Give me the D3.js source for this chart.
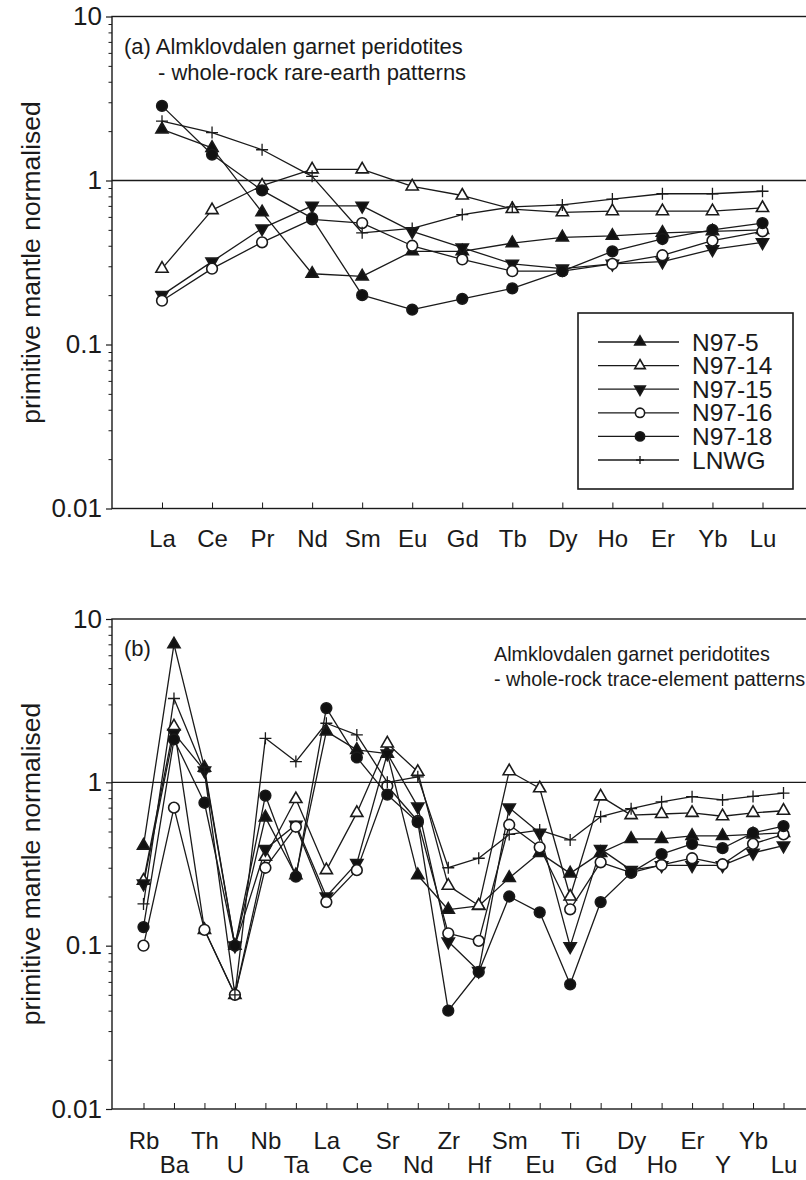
<!DOCTYPE html>
<html>
<head>
<meta charset="utf-8">
<script src="https://cdn.jsdelivr.net/npm/d3@7"></script>
<style>
body { margin: 0; background: #fff; }
svg { display: block; font-family: "Liberation Sans", Arial, Helvetica, sans-serif; }
</style>
</head>
<body>
<svg id="chart" width="806" height="1180"></svg>
<script>
// panel (a): rare-earth elements
const reeElements = ["La", "Ce", "Pr", "Nd", "Sm", "Eu", "Gd", "Tb", "Dy", "Ho", "Er", "Yb", "Lu"];
const reeN97_5  = [2.05, 1.58, 0.64, 0.27, 0.26, 0.37, 0.37, 0.415, 0.45, 0.46, 0.48, 0.49, 0.5];
const reeN97_14 = [0.29, 0.66, 0.93, 1.17, 1.17, 0.92, 0.81, 0.67, 0.64, 0.65, 0.65, 0.65, 0.68];
const reeN97_15 = [0.2, 0.32, 0.51, 0.7, 0.7, 0.49, 0.39, 0.31, 0.29, 0.31, 0.32, 0.38, 0.42];
const reeN97_16 = [0.185, 0.29, 0.42, 0.58, 0.55, 0.4, 0.33, 0.28, 0.28, 0.31, 0.35, 0.43, 0.49];
const reeN97_18 = [2.85, 1.44, 0.87, 0.59, 0.2, 0.163, 0.19, 0.22, 0.28, 0.37, 0.44, 0.5, 0.55];
const reeLNWG   = [2.3, 1.96, 1.54, 1.06, 0.48, 0.51, 0.62, 0.69, 0.71, 0.77, 0.83, 0.83, 0.86];

// panel (b): trace elements
const traceElements = ["Rb", "Ba", "Th", "U", "Nb", "Ta", "La", "Ce", "Sr", "Nd", "Zr",
                       "Hf", "Sm", "Eu", "Ti", "Gd", "Dy", "Ho", "Er", "Y", "Yb", "Lu"];
const traceN97_5  = [0.41, 7.0, 1.23, 0.1, 0.61, 0.27, 2.05, 1.58, 1.5, 0.27, 0.166,
                     0.175, 0.26, 0.37, 0.277, 0.37, 0.45, 0.45, 0.47, 0.47, 0.48, 0.49];
const traceN97_14 = [0.25, 2.2, 0.125, 0.05, 0.35, 0.79, 0.29, 0.65, 1.73, 1.16, 0.233,
                     0.176, 1.17, 0.92, 0.2, 0.82, 0.63, 0.64, 0.65, 0.62, 0.65, 0.67];
const traceN97_15 = [0.24, 2.0, 1.18, 0.1, 0.39, 0.55, 0.2, 0.32, 1.5, 0.71, 0.106,
                     0.07, 0.7, 0.49, 0.099, 0.39, 0.29, 0.31, 0.31, 0.31, 0.37, 0.41];
const traceN97_16 = [0.1, 0.7, 0.125, 0.05, 0.3, 0.535, 0.185, 0.29, 0.95, 0.58, 0.119,
                     0.107, 0.55, 0.4, 0.167, 0.324, 0.28, 0.312, 0.343, 0.315, 0.42, 0.48];
const traceN97_18 = [0.13, 1.83, 0.75, 0.1, 0.83, 0.265, 2.85, 1.42, 0.84, 0.57, 0.04,
                     0.069, 0.2, 0.16, 0.058, 0.185, 0.28, 0.363, 0.42, 0.395, 0.49, 0.54];
const traceLNWG   = [0.18, 3.26, 1.16, 0.05, 1.86, 1.34, 2.3, 1.95, 1.0, 1.08, 0.3,
                     0.343, 0.48, 0.51, 0.444, 0.616, 0.69, 0.76, 0.817, 0.78, 0.82, 0.86];

const sampleNames = ["N97-5", "N97-14", "N97-15", "N97-16", "N97-18", "LNWG"];
const yMajorTicks = [0.01, 0.1, 1, 10];
const yTickLabels = ["0.01", "0.1", "1", "10"];

// marker look per sample
const markerStyle = {
    "N97-5":  { shape: "up",     fill: "#111" },
    "N97-14": { shape: "up",     fill: "#fff" },
    "N97-15": { shape: "down",   fill: "#111" },
    "N97-16": { shape: "circle", fill: "#fff" },
    "N97-18": { shape: "circle", fill: "#111" },
    "LNWG":   { shape: "plus",   fill: "none" }
};

const ink = "#1a1a1a";
const svg = d3.select("#chart");

/**
 * Path string for a marker
 */
function markerPath(shape, small) {
    let k = small ? 0.75 : 1;
    if (shape === "plus") {
        let r = (small ? 4 : 6);
        return "M" + (-r) + ",0H" + r + "M0," + (-r) + "V" + r;
    }
    if (shape === "circle") return d3.symbol(d3.symbolCircle, 90 * k)();
    return d3.symbol(d3.symbolTriangle, 64 * k)();
}

function drawMarker(g, name, x, y, small) {
    let st = markerStyle[name];
    return g.append("path")
        .attr("d", markerPath(st.shape, small))
        .attr("transform", "translate(" + x + "," + y + ")" + (st.shape === "down" ? " rotate(180)" : ""))
        .attr("fill", st.fill)
        .attr("stroke", ink)
        .attr("stroke-width", st.shape === "plus" ? 1.3 : 1.6);
}

/**
 * Draws one panel: log y axis, element x axis, sample patterns
 */
function drawPanel(cfg) {
    let left = 112, right = 809;
    let g = svg.append("g");

    let y = d3.scaleLog().domain([0.01, 10]).range([cfg.bottom, cfg.top]);
    let x = d3.scalePoint().domain(cfg.cats).range(cfg.xRange);

    // frame
    g.append("rect")
        .attr("x", left).attr("y", cfg.top)
        .attr("width", right - left).attr("height", cfg.bottom - cfg.top)
        .attr("fill", "none").attr("stroke", ink).attr("stroke-width", 1.4);

    // minor ticks
    let minors = [];
    [0.01, 0.1, 1].forEach(d => { for (let m = 2; m <= 9; m++) minors.push(d * m); });
    g.append("g")
        .attr("transform", "translate(" + left + ",0)")
        .call(d3.axisLeft(y).tickValues(minors).tickSize(3.5).tickFormat(""))
        .call(a => a.select(".domain").remove())
        .selectAll("line").attr("stroke", ink).attr("stroke-width", 1);

    // major ticks + labels
    let yAxis = g.append("g")
        .attr("transform", "translate(" + left + ",0)")
        .call(d3.axisLeft(y).tickValues(yMajorTicks).tickSize(6).tickPadding(4)
            .tickFormat((d, i) => yTickLabels[i]))
        .call(a => a.select(".domain").remove());
    yAxis.selectAll("line").attr("stroke", ink).attr("stroke-width", 1.2);
    yAxis.selectAll("text")
        .attr("font-size", 26).attr("font-family", "Liberation Sans, Arial, sans-serif")
        .attr("fill", ink);

    // x axis, ticks pointing inward
    let xAxis = g.append("g")
        .attr("transform", "translate(0," + cfg.bottom + ")")
        .call(d3.axisBottom(x).tickSize(-6).tickPadding(cfg.labelPad))
        .call(a => a.select(".domain").remove());
    xAxis.selectAll("line").attr("stroke", ink).attr("stroke-width", 1);
    xAxis.selectAll("text")
        .attr("font-size", 24).attr("font-family", "Liberation Sans, Arial, sans-serif")
        .attr("fill", ink)
        .attr("y", (d, i) => cfg.labelPad + (cfg.twoRows && i % 2 === 1 ? cfg.rowGap : 0));

    // y axis title
    g.append("text")
        .attr("transform", "translate(40," + ((cfg.top + cfg.bottom) / 2) + ") rotate(-90)")
        .attr("text-anchor", "middle")
        .attr("font-size", 26.5)
        .attr("fill", ink)
        .text("primitive mantle normalised");

    // reference line at 1
    g.append("line")
        .attr("x1", left).attr("x2", right)
        .attr("y1", y(1)).attr("y2", y(1))
        .attr("stroke", ink).attr("stroke-width", 1.3);

    let line = d3.line()
        .x((d, i) => x(cfg.cats[i]))
        .y(d => y(d));

    cfg.series.forEach(s => {
        g.append("path")
            .datum(s.values)
            .attr("fill", "none")
            .attr("stroke", ink)
            .attr("stroke-width", 1.3)
            .attr("stroke-linejoin", "round")
            .attr("d", line);
    });
    cfg.series.forEach(s => {
        s.values.forEach((v, i) => drawMarker(g, s.name, x(cfg.cats[i]), y(v), false));
    });

    // annotation
    cfg.notes.forEach(n => {
        g.append("text")
            .attr("x", n.x).attr("y", n.y)
            .attr("font-size", n.size)
            .attr("fill", ink)
            .text(n.text);
    });
    return g;
}

let panelA = drawPanel({
    top: 16.5, bottom: 508.5,
    cats: reeElements,
    xRange: [162, 762.5],
    labelPad: 21, twoRows: false,
    series: [
        { name: "N97-5", values: reeN97_5 },
        { name: "N97-14", values: reeN97_14 },
        { name: "N97-15", values: reeN97_15 },
        { name: "N97-16", values: reeN97_16 },
        { name: "N97-18", values: reeN97_18 },
        { name: "LNWG", values: reeLNWG }
    ],
    notes: [
        { x: 124, y: 54, size: 22, text: "(a) Almklovdalen garnet peridotites" },
        { x: 158, y: 80, size: 22, text: "- whole-rock rare-earth patterns" }
    ]
});

drawPanel({
    top: 619, bottom: 1109,
    cats: traceElements,
    xRange: [143.5, 783.5],
    labelPad: 23, twoRows: true, rowGap: 24,
    series: [
        { name: "N97-5", values: traceN97_5 },
        { name: "N97-14", values: traceN97_14 },
        { name: "N97-15", values: traceN97_15 },
        { name: "N97-16", values: traceN97_16 },
        { name: "N97-18", values: traceN97_18 },
        { name: "LNWG", values: traceLNWG }
    ],
    notes: [
        { x: 124, y: 656, size: 22, text: "(b)" },
        { x: 494, y: 661, size: 19.8, text: "Almklovdalen garnet peridotites" },
        { x: 494, y: 686, size: 19.8, text: "- whole-rock trace-element patterns" }
    ]
});

// legend in panel (a)
let legend = panelA.append("g").attr("transform", "translate(578,313)");
legend.append("rect")
    .attr("width", 215).attr("height", 176)
    .attr("fill", "#fff").attr("stroke", ink).attr("stroke-width", 1.6);
sampleNames.forEach((name, i) => {
    let row = legend.append("g").attr("transform", "translate(0," + (29 + i * 23.6) + ")");
    row.append("line")
        .attr("x1", 20).attr("x2", 101)
        .attr("stroke", ink).attr("stroke-width", 1.3);
    drawMarker(row, name, 62, 0, true);
    row.append("text")
        .attr("x", 114).attr("y", 8.5)
        .attr("font-size", 24.5)
        .attr("fill", ink)
        .text(name);
});
</script>
</body>
</html>
